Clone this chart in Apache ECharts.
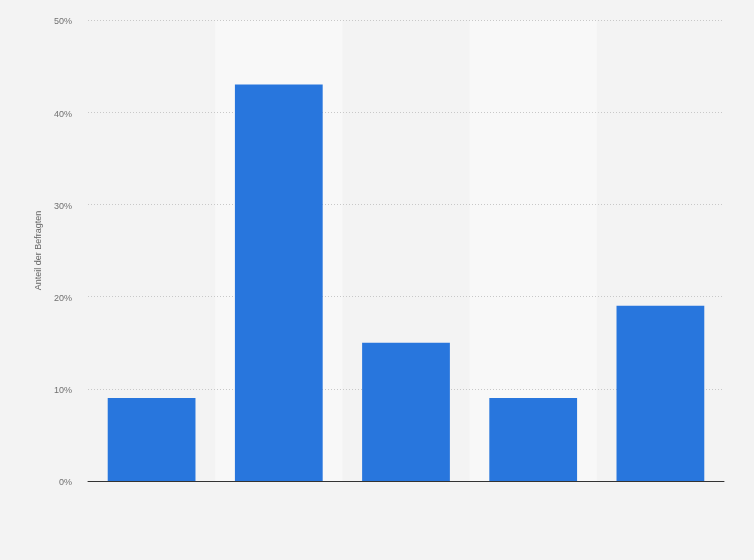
<!DOCTYPE html>
<html>
<head>
<meta charset="utf-8">
<script src="https://cdn.jsdelivr.net/npm/echarts@6/dist/echarts.min.js"></script>
<style>
  html, body { margin: 0; padding: 0; background: #f3f3f3; }
  #chart { width: 754px; height: 560px; }
</style>
</head>
<body>
<div id="chart"></div>
<script>
// Kategorien sind im Bild nicht beschriftet
var categories = ['A', 'B', 'C', 'D', 'E'];
var values = [9, 43, 15, 9, 19];
var yTicks = [0, 10, 20, 30, 40, 50];

var chart = echarts.init(document.getElementById('chart'));
var option = {
    backgroundColor: '#f3f3f3',
    grid: { left: 88, right: 30, top: 20, bottom: 79 },
    xAxis: {
        type: 'category',
        data: categories,
        z: 0,
        axisLine: { lineStyle: { color: '#333', width: 1 } },
        axisTick: { show: false },
        axisLabel: { show: false },
        splitArea: {
            show: true,
            areaStyle: { color: ['rgba(0,0,0,0)', '#f8f8f8'] }
        }
    },
    yAxis: {
        type: 'value',
        z: 1,
        min: yTicks[0],
        max: yTicks[yTicks.length - 1],
        interval: 10,
        name: 'Anteil der Befragten',
        nameLocation: 'middle',
        nameGap: 44,
        nameTextStyle: { color: '#666', fontSize: 9, fontFamily: 'Liberation Sans' },
        axisLine: { show: false },
        axisTick: { show: false },
        axisLabel: {
            formatter: function (v) { return '{v|' + v + '%}'; },
            margin: 16,
            rich: {
                v: {
                    color: '#707070',
                    fontSize: 9,
                    fontFamily: 'Liberation Sans',
                    padding: [4, 0, 0, 0]
                }
            }
        },
        splitLine: { showMinLine: false, lineStyle: { color: '#c8c8c8', type: [1, 2] } }
    },
    series: [{
        type: 'bar',
        data: values,
        barWidth: '69%',
        itemStyle: { color: '#2876dd' }
    }]
};
chart.setOption(option);
</script>
</body>
</html>
